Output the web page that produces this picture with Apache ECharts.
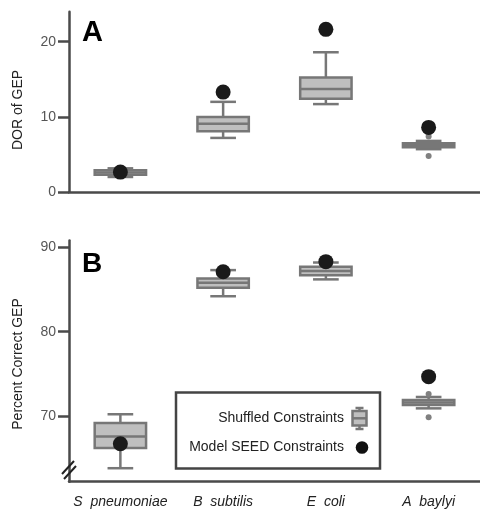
<!DOCTYPE html>
<html><head><meta charset="utf-8">
<script src="https://cdn.jsdelivr.net/npm/echarts@6/dist/echarts.min.js"></script>
<style>html,body{margin:0;padding:0;background:#fff}#c{width:480px;height:510px}</style>
</head><body><div id="c"></div>
<script>
const categories = ['S  pneumoniae', 'B  subtilis', 'E  coli', 'A  baylyi'];
// [min, Q1, median, Q3, max]
const dorBox = [[2.0, 2.3, 2.6, 2.9, 3.15], [7.2, 8.1, 9.1, 10.0, 12.0], [11.7, 12.4, 13.7, 15.25, 18.6], [5.7, 5.95, 6.25, 6.5, 6.8]];
const dorOutliers = [[3, 7.4], [3, 4.8]];
const dorSeed = [2.65, 13.3, 21.65, 8.6];
const pctBox = [[63.8, 66.2, 67.55, 69.17, 70.2], [84.2, 85.2, 85.8, 86.3, 87.3], [86.2, 86.7, 87.2, 87.7, 88.2], [70.9, 71.3, 71.6, 71.9, 72.25]];
const pctOutliers = [[3, 72.6], [3, 69.85]];
const pctSeed = [66.7, 87.1, 88.3, 74.66];
const dorTicks = [0, 10, 20];
const pctTicks = [70, 80, 90];

const FONT = 'Liberation Sans, Arial, sans-serif';
const AX = '#4a4a4a';
const BOXFILL = '#bfbfbf';
const BOXLINE = '#777777';

function boxRender(params, api) {
  const x = api.value(0);
  const lo = api.coord([x, api.value(1)]);
  const q1 = api.coord([x, api.value(2)]);
  const md = api.coord([x, api.value(3)]);
  const q3 = api.coord([x, api.value(4)]);
  const hi = api.coord([x, api.value(5)]);
  const band = api.size([1, 0])[0];
  const hw = band * 0.25;
  const cw = band * 0.125;
  const cx = lo[0];
  const ls = {stroke: BOXLINE, lineWidth: 2.5};
  return {type: 'group', children: [
    {type: 'line', shape: {x1: cx, y1: hi[1], x2: cx, y2: q3[1]}, style: ls},
    {type: 'line', shape: {x1: cx, y1: lo[1], x2: cx, y2: q1[1]}, style: ls},
    {type: 'line', shape: {x1: cx - cw, y1: hi[1], x2: cx + cw, y2: hi[1]}, style: ls},
    {type: 'line', shape: {x1: cx - cw, y1: lo[1], x2: cx + cw, y2: lo[1]}, style: ls},
    {type: 'rect', shape: {x: cx - hw, y: q3[1], width: 2 * hw, height: q1[1] - q3[1]}, style: {fill: BOXFILL, stroke: BOXLINE, lineWidth: 2.5}},
    {type: 'line', shape: {x1: cx - hw, y1: md[1], x2: cx + hw, y2: md[1]}, style: ls}
  ]};
}

const boxData = (arr) => arr.map((d, i) => [i].concat(d));

function xAxisCfg(gi, showLabel) {
  return {
    gridIndex: gi, type: 'category', data: categories, boundaryGap: true,
    axisLine: {lineStyle: {color: AX, width: 2.5}},
    axisTick: {alignWithLabel: true, interval: 0, length: 9, lineStyle: {color: AX, width: 2.5}},
    axisLabel: {show: showLabel, interval: 0, fontFamily: FONT, fontSize: 14, fontStyle: 'italic', color: '#222', margin: 13},
    splitLine: {show: false}
  };
}
function yAxisCfg(gi, min, max, ticks) {
  return {
    gridIndex: gi, type: 'value', min: min, max: max,
    axisLine: {show: true, lineStyle: {color: AX, width: 2.5}},
    axisTick: {show: true, length: 11, lineStyle: {color: AX, width: 2.5}, customValues: ticks},
    axisLabel: {fontFamily: FONT, fontSize: 14, color: '#555', margin: 13, customValues: ticks},
    splitLine: {show: false}
  };
}

const chart = echarts.init(document.getElementById('c'));
chart.setOption({
  animation: false,
  backgroundColor: '#fff',
  grid: [
    {left: 69, right: 0, top: 11.7, height: 180.3},
    {left: 69, right: 0, top: 240.6, height: 241.1}
  ],
  xAxis: [xAxisCfg(0, false), xAxisCfg(1, true)],
  yAxis: [yAxisCfg(0, 0, 24, dorTicks), yAxisCfg(1, 62.2, 90.8, pctTicks)],
  series: [
    {type: 'custom', xAxisIndex: 0, yAxisIndex: 0, renderItem: boxRender, data: boxData(dorBox), encode: {x: 0, y: [1, 2, 3, 4, 5]}, z: 2},
    {type: 'scatter', xAxisIndex: 0, yAxisIndex: 0, data: dorOutliers, symbolSize: 6, itemStyle: {color: '#808080', opacity: 1}, z: 3},
    {type: 'scatter', xAxisIndex: 0, yAxisIndex: 0, data: dorSeed.map((v, i) => [i, v]), symbolSize: 15, itemStyle: {color: '#1a1a1a', opacity: 1}, z: 4},
    {type: 'custom', xAxisIndex: 1, yAxisIndex: 1, renderItem: boxRender, data: boxData(pctBox), encode: {x: 0, y: [1, 2, 3, 4, 5]}, z: 2},
    {type: 'scatter', xAxisIndex: 1, yAxisIndex: 1, data: pctOutliers, symbolSize: 6, itemStyle: {color: '#808080', opacity: 1}, z: 3},
    {type: 'scatter', xAxisIndex: 1, yAxisIndex: 1, data: pctSeed.map((v, i) => [i, v]), symbolSize: 15, itemStyle: {color: '#1a1a1a', opacity: 1}, z: 4}
  ],
  graphic: [
    {type: 'text', left: 82, top: 18, style: {text: 'A', font: 'bold 29px ' + FONT, fill: '#000'}},
    {type: 'text', left: 82, top: 250, style: {text: 'B', font: 'bold 28px ' + FONT, fill: '#000'}},
    {type: 'text', x: 18, y: 110, rotation: Math.PI / 2, style: {text: 'DOR of GEP', font: '14px ' + FONT, fill: '#222', textAlign: 'center', textVerticalAlign: 'middle'}},
    {type: 'text', x: 18, y: 364, rotation: Math.PI / 2, style: {text: 'Percent Correct GEP', font: '14px ' + FONT, fill: '#222', textAlign: 'center', textVerticalAlign: 'middle'}},
    // axis break mark
    {type: 'line', shape: {x1: 62, y1: 474, x2: 74, y2: 461}, style: {stroke: '#222', lineWidth: 2}, z: 10},
    {type: 'line', shape: {x1: 64, y1: 479, x2: 76, y2: 466}, style: {stroke: '#222', lineWidth: 2}, z: 10},
    // legend
    {type: 'rect', shape: {x: 176, y: 392.5, width: 204, height: 76}, style: {fill: '#fff', stroke: '#444', lineWidth: 2.5}, z: 20},
    {type: 'text', x: 344, y: 418, style: {text: 'Shuffled Constraints', font: '14px ' + FONT, fill: '#222', textAlign: 'right', textVerticalAlign: 'middle'}, z: 21},
    {type: 'text', x: 344, y: 447, style: {text: 'Model SEED Constraints', font: '14px ' + FONT, fill: '#222', textAlign: 'right', textVerticalAlign: 'middle'}, z: 21},
    {type: 'line', shape: {x1: 359.5, y1: 408, x2: 359.5, y2: 429}, style: {stroke: BOXLINE, lineWidth: 2.5}, z: 21},
    {type: 'line', shape: {x1: 355.5, y1: 408, x2: 363.5, y2: 408}, style: {stroke: BOXLINE, lineWidth: 2.5}, z: 21},
    {type: 'line', shape: {x1: 355.5, y1: 429, x2: 363.5, y2: 429}, style: {stroke: BOXLINE, lineWidth: 2.5}, z: 21},
    {type: 'rect', shape: {x: 352.5, y: 411, width: 14, height: 14.5}, style: {fill: BOXFILL, stroke: BOXLINE, lineWidth: 2.5}, z: 22},
    {type: 'line', shape: {x1: 352.5, y1: 418.3, x2: 366.5, y2: 418.3}, style: {stroke: BOXLINE, lineWidth: 2.5}, z: 23},
    {type: 'circle', shape: {cx: 362, cy: 447.5, r: 6.3}, style: {fill: '#111'}, z: 21}
  ]
});
</script></body></html>
